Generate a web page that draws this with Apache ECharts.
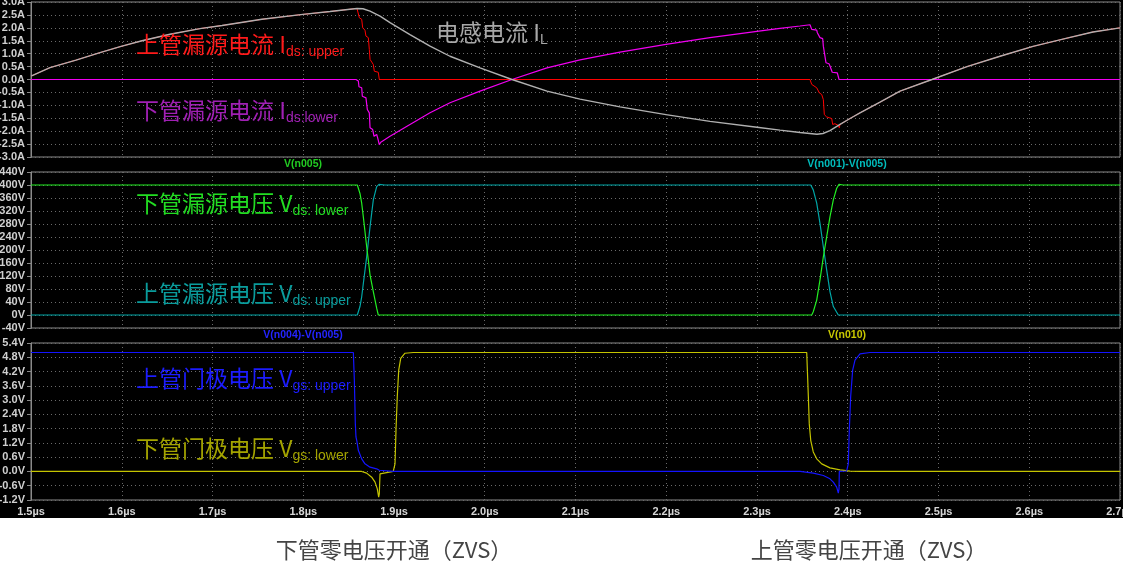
<!DOCTYPE html>
<html><head><meta charset="utf-8">
<script src="https://cdn.jsdelivr.net/npm/echarts/dist/echarts.min.js"></script>
<style>
html,body{margin:0;padding:0;background:#fff;}
#c{width:1123px;height:579px;background:linear-gradient(#000 0,#000 518px,#fff 518px,#fff 100%);}
</style></head>
<body><div id="c"></div>
<script>
// time axis (µs)
const timeMin = 1.5, timeMax = 2.7, timeStep = 0.1;
// panel axis ranges
const currentAxis = {min: -3, max: 3, step: 0.5};
const vdsAxis = {min: -40, max: 440, step: 40};
const vgsAxis = {min: -1.2, max: 5.4, step: 0.6};

// ---- top panel: currents (A) ----
const inductorCurrent = [[1.5,0.13],[1.5209,0.46],[1.5496,0.75],[1.576,1.04],[1.5992,1.28],[1.6223,1.5],[1.6532,1.75],[1.6862,1.97],[1.7105,2.09],[1.7545,2.33],[1.7997,2.52],[1.8295,2.63],[1.8515,2.72],[1.8592,2.75],[1.8658,2.74],[1.8736,2.65],[1.8846,2.45],[1.8956,2.2],[1.9176,1.74],[1.9397,1.29],[1.9617,0.9],[1.9948,0.45],[2.03,0],[2.0686,-0.45],[2.105,-0.76],[2.149,-1.06],[2.1997,-1.36],[2.2482,-1.62],[2.3,-1.85],[2.3253,-1.96],[2.3474,-2.05],[2.3661,-2.12],[2.3727,-2.09],[2.3804,-1.98],[2.3915,-1.74],[2.4025,-1.51],[2.4135,-1.29],[2.4355,-0.88],[2.4576,-0.45],[2.4928,0],[2.5314,0.5],[2.5678,0.9],[2.6041,1.28],[2.6416,1.6],[2.6702,1.84],[2.7,2.0]];
const upperCurrent = [[1.5,0.13],[1.5209,0.46],[1.5496,0.75],[1.576,1.04],[1.5992,1.28],[1.6223,1.5],[1.6532,1.75],[1.6862,1.97],[1.7105,2.09],[1.7545,2.33],[1.7997,2.52],[1.8295,2.63],[1.8515,2.72],[1.8592,2.75],[1.8607,2.71],[1.8618,2.39],[1.8644,2.33],[1.8655,2.0],[1.868,1.91],[1.8691,1.68],[1.8717,1.62],[1.8728,1.16],[1.8736,0.78],[1.8754,0.71],[1.8772,0.58],[1.8783,0.32],[1.8827,0.28],[1.8838,0],[2.3584,0],[2.3603,-0.19],[2.3658,-0.32],[2.3687,-0.52],[2.3713,-0.58],[2.3731,-0.78],[2.3742,-1.36],[2.3768,-1.45],[2.3797,-1.48],[2.3823,-1.51],[2.3834,-1.74],[2.3859,-1.71],[2.3878,-1.65],[2.3896,-1.78],[2.3907,-1.87],[2.3915,-1.74],[2.4025,-1.51],[2.4135,-1.29],[2.4355,-0.88],[2.4576,-0.45],[2.4928,0],[2.5314,0.5],[2.5678,0.9],[2.6041,1.28],[2.6416,1.6],[2.6702,1.84],[2.7,2.0]];
const lowerCurrent = [[1.5,0],[1.8581,0],[1.8607,-0.06],[1.8614,-0.28],[1.8644,-0.32],[1.8651,-0.65],[1.8691,-0.71],[1.8706,-1.16],[1.8728,-1.29],[1.8736,-1.87],[1.8765,-1.94],[1.878,-2.2],[1.8809,-2.13],[1.882,-2.26],[1.8835,-2.2],[1.8838,-2.52],[1.8854,-2.43],[1.8956,-2.2],[1.9176,-1.74],[1.9397,-1.29],[1.9617,-0.9],[1.9948,-0.45],[2.03,0],[2.0686,0.45],[2.105,0.76],[2.149,1.06],[2.1997,1.36],[2.2482,1.62],[2.3,1.86],[2.3253,1.98],[2.3474,2.07],[2.3584,2.12],[2.3603,1.94],[2.3658,1.91],[2.3665,1.81],[2.3687,1.78],[2.3694,1.62],[2.3724,1.58],[2.3731,1.29],[2.3749,1.23],[2.376,0.65],[2.3793,0.61],[2.3804,0.52],[2.3823,0.49],[2.3829,0.28],[2.3885,0.26],[2.3904,0],[2.7,0]];

// ---- middle panel: drain-source voltages (V) ----
const vdsLower = [[1.5,400],[1.8596,400],[1.8625,374],[1.8644,344],[1.8662,302],[1.8699,210],[1.8717,169],[1.8736,123],[1.8772,72],[1.8809,21],[1.8827,0],[2.3603,0],[2.362,10],[2.3658,46],[2.3694,108],[2.3731,179],[2.3768,241],[2.3804,302],[2.3841,354],[2.3878,390],[2.3904,402],[2.395,400],[2.7,400]];
const vdsUpper = [[1.5,0],[1.8596,0],[1.8625,26],[1.8644,56],[1.8662,97],[1.8699,179],[1.8736,272],[1.8772,354],[1.8809,395],[1.8835,402],[1.89,400],[2.3592,400],[2.362,385],[2.3658,344],[2.3694,282],[2.3731,210],[2.3768,138],[2.3804,72],[2.3841,26],[2.3896,0],[2.7,0]];

// ---- bottom panel: gate voltages (V) ----
const vgsUpper = [[1.5,5.0],[1.8552,5.0],[1.8563,3.84],[1.8574,2.0],[1.8581,1.45],[1.8592,1.25],[1.8607,0.89],[1.8644,0.53],[1.868,0.32],[1.8736,0.18],[1.8809,0.11],[1.8824,0.17],[1.8838,0.05],[1.8846,0.02],[1.8992,0],[2.3474,0],[2.362,-0.07],[2.3731,-0.17],[2.3804,-0.31],[2.3841,-0.45],[2.3878,-0.66],[2.3896,-0.91],[2.3904,-0.72],[2.3907,0],[2.3988,0.02],[2.4006,0.32],[2.4017,1.73],[2.4032,3.14],[2.4054,4.26],[2.408,4.68],[2.4135,4.94],[2.4245,5.0],[2.7,5.0]];
const vgsLower = [[1.5,0],[1.8644,0],[1.8699,-0.07],[1.8754,-0.24],[1.8791,-0.45],[1.8816,-0.73],[1.8831,-1.08],[1.8838,-0.94],[1.8846,-0.1],[1.8865,-0.03],[1.8992,0],[1.9011,0.32],[1.9022,1.73],[1.9036,3.14],[1.9052,4.26],[1.9074,4.75],[1.9121,4.97],[1.9213,5.0],[2.3548,5.0],[2.3555,4.26],[2.3566,3.14],[2.3576,2.0],[2.3592,1.31],[2.362,0.82],[2.3658,0.53],[2.3713,0.32],[2.3804,0.15],[2.3915,0.07],[2.4025,0.01],[2.4135,0],[2.7,0]];

// texts
const panelTitles = [
  {text:'V(n005)', x:303, y:164, color:'#22cc22'},
  {text:'V(n001)-V(n005)', x:847, y:164, color:'#00bcbc'},
  {text:'V(n004)-V(n005)', x:303, y:335, color:'#2424ff'},
  {text:'V(n010)', x:847, y:335, color:'#c8c800'}
];
const annotations = [
  {main:'上管漏源电流 I', sub:'ds: upper', x:136, y:44, color:'#ff1a1a'},
  {main:'下管漏源电流 I', sub:'ds:lower', x:136, y:110, color:'#a020b4'},
  {main:'电感电流 I', sub:'L', x:436, y:32, color:'#a8a8a8'},
  {main:'下管漏源电压 V', sub:'ds: lower', x:136, y:203, color:'#22dd22'},
  {main:'上管漏源电压 V', sub:'ds: upper', x:136, y:293, color:'#0a9c9c'},
  {main:'上管门极电压 V', sub:'gs: upper', x:136, y:378, color:'#1c1cff'},
  {main:'下管门极电压 V', sub:'gs: lower', x:136, y:448, color:'#a4a400'}
];
const captions = [
  {text:'下管零电压开通（ZVS）', x:394, y:550},
  {text:'上管零电压开通（ZVS）', x:869, y:550}
];

const chart = echarts.init(document.getElementById('c'), null, {renderer:'canvas'});
const gridDefs = [{top:2, height:155},{top:172, height:156},{top:343, height:157}];
const grids = gridDefs.map(g => ({left:31, right:3, top:g.top, height:g.height, show:true, borderColor:'#8a8a8a', borderWidth:1, backgroundColor:'transparent', containLabel:false, outerBoundsMode:'none'}));
const dotted = {show:true, lineStyle:{color:'#6a6a6a', type:[1,3], width:1}};
const xAxes = [0,1,2].map(i => ({
  type:'value', gridIndex:i, min:timeMin, max:timeMax, interval:timeStep,
  axisLine:{show:false}, axisTick:{show:false}, splitLine:dotted,
  axisLabel:{show:i===2, color:'#d6d6d6', fontSize:11, fontWeight:'bold', margin:6,
    fontFamily:'"Liberation Sans Narrow","Liberation Sans",sans-serif',
    formatter:v => v.toFixed(1)+'µs'}
}));
function yAx(i, ax, fmt){
  return {type:'value', gridIndex:i, min:ax.min, max:ax.max, interval:ax.step,
    axisLine:{show:true, lineStyle:{color:'#8a8a8a'}},
    axisTick:{show:true, length:4, lineStyle:{color:'#8a8a8a'}},
    splitLine:dotted,
    axisLabel:{color:'#cfcfcf', fontSize:11, fontWeight:'bold', margin:6, fontFamily:'"Liberation Sans",Arial,sans-serif', formatter:fmt}};
}
const yAxes = [
  yAx(0, currentAxis, v => v.toFixed(1)+'A'),
  yAx(1, vdsAxis, v => Math.round(v)+'V'),
  yAx(2, vgsAxis, v => (Math.abs(v)<1e-9?0:v).toFixed(1)+'V')
];
function line(data, color, gi, z, w){
  return {type:'line', data:data, xAxisIndex:gi, yAxisIndex:gi, symbol:'none', z:z,
    lineStyle:{color:color, width:w||1.2}, animation:false, silent:true};
}
const series = [
  line(upperCurrent, '#ff0000', 0, 2, 1.0),
  line(lowerCurrent, '#f000f0', 0, 3),
  line(inductorCurrent, '#b0b0b0', 0, 4, 1.4),
  line(vdsUpper, '#00a6a6', 1, 2),
  line(vdsLower, '#22ee22', 1, 3),
  line(vgsLower, '#c4c400', 2, 2),
  line(vgsUpper, '#1414ff', 2, 3)
];
const graphic = [];
panelTitles.forEach(t => graphic.push({type:'text', x:t.x, y:t.y, z:10, style:{text:t.text, fill:t.color, font:'bold 10.5px "Liberation Sans",Arial,sans-serif', align:'center', verticalAlign:'middle'}}));
annotations.forEach(a => graphic.push({type:'text', x:a.x, y:a.y, z:10, style:{
  text:'{m|'+a.main+'}{s|'+a.sub+'}', verticalAlign:'middle', align:'left',
  rich:{
    m:{fill:a.color, fontSize:23, lineHeight:30, fontFamily:'"Noto Sans CJK SC","Liberation Sans",sans-serif'},
    s:{fill:a.color, fontSize:14, lineHeight:14, verticalAlign:'bottom', fontFamily:'"Liberation Sans",Arial,sans-serif'}
  }}}));
captions.forEach(c => graphic.push({type:'text', x:c.x, y:c.y, z:10, style:{text:c.text, fill:'#444444', font:'22px "Noto Sans CJK SC",sans-serif', align:'center', verticalAlign:'middle'}}));

chart.setOption({backgroundColor:'transparent', animation:false, grid:grids, xAxis:xAxes, yAxis:yAxes, series:series, graphic:graphic});
</script>
</body></html>
